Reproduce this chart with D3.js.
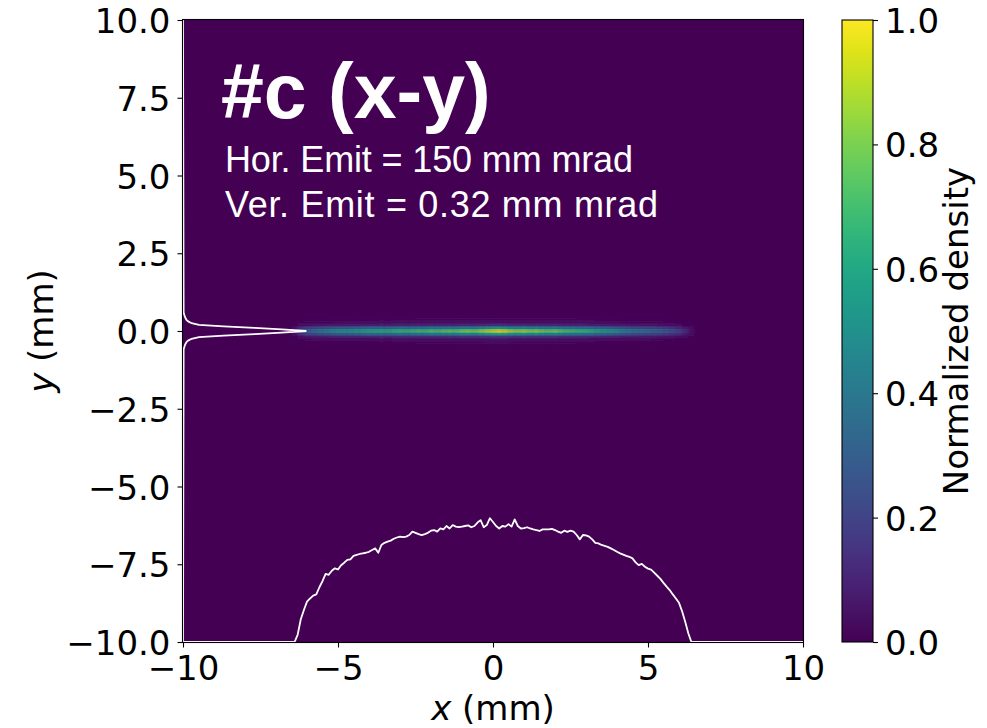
<!DOCTYPE html>
<html>
<head>
<meta charset="utf-8">
<script src="https://cdn.jsdelivr.net/npm/d3@7"></script>
<style>
  body { margin: 0; background: #ffffff; }
  svg { display: block; }
  text { font-family: "DejaVu Sans", sans-serif; }
</style>
</head>
<body>
<svg id="chart" width="987" height="728"></svg>
<script>
// ---- data -------------------------------------------------------------
const xTicks = [-10, -5, 0, 5, 10];
const yTicks = [10, 7.5, 5, 2.5, 0, -2.5, -5, -7.5, -10];
const cbTicks = [0, 0.2, 0.4, 0.6, 0.8, 1.0];

// horizontal projection: bin centres every 0.1 mm from -6.4 to 6.4 mm
const xProfileBins = d3.range(129).map(i => +(-6.4 + 0.1 * i).toFixed(1));
// particle counts per bin (relative units)
const xProfileCounts = [0, 24, 73, 103, 130, 140, 149, 153, 176, 196,
  219, 216, 229, 237, 233, 247, 255, 264, 266, 277,
  280, 283, 285, 287, 290, 296, 301, 287, 312, 319,
  323, 326, 332, 336, 339, 337, 339, 344, 355, 351,
  347, 344, 347, 351, 358, 360, 355, 365, 362, 373,
  365, 376, 371, 369, 371, 373, 375, 369, 373, 384,
  392, 369, 376, 398, 386, 373, 365, 373, 371, 379,
  371, 394, 373, 365, 366, 369, 365, 362, 360, 357,
  362, 362, 362, 364, 360, 355, 351, 358, 354, 358,
  355, 344, 330, 344, 343, 339, 330, 319, 317, 312,
  309, 306, 301, 296, 290, 285, 281, 277, 274, 269,
  256, 247, 251, 242, 236, 233, 223, 213, 203, 190,
  178, 167, 153, 140, 126, 99, 65, 28, 0];

// beam core: bin centres every 0.2 mm from -6.4 to 6.4 mm
const xBins = d3.range(65).map(i => +(-6.4 + 0.2 * i).toFixed(1));
// peak density of the core along x (normalised)
const ridge = [0.08, 0.26, 0.36, 0.40, 0.45, 0.48, 0.52, 0.54, 0.56, 0.58,
  0.60, 0.61, 0.63, 0.65, 0.67, 0.65, 0.68, 0.70, 0.69, 0.71,
  0.74, 0.72, 0.76, 0.74, 0.78, 0.80, 0.77, 0.82, 0.84, 0.82,
  0.88, 0.92, 0.96, 1.00, 0.97, 0.90, 0.86, 0.88, 0.84, 0.87,
  0.82, 0.80, 0.82, 0.77, 0.75, 0.73, 0.71, 0.69, 0.66, 0.63,
  0.60, 0.57, 0.53, 0.49, 0.46, 0.44, 0.42, 0.40, 0.38, 0.36,
  0.32, 0.28, 0.22, 0.14, 0.05];

// vertical bin centres (mm), 0.05 mm wide, -0.6 ... 0.6
const yBins = d3.range(25).map(i => +(-0.6 + 0.05 * i).toFixed(2));
// projected vertical density (peak = 1)
const yProjection = [0.005, 0.008, 0.012, 0.016, 0.022, 0.03, 0.045, 0.07, 0.13, 0.33,
  0.58, 0.80, 1.00, 0.80, 0.58, 0.33, 0.13, 0.07, 0.045, 0.03,
  0.022, 0.016, 0.012, 0.008, 0.005];

// ---- layout -----------------------------------------------------------
const svg = d3.select("#chart");
const x = d3.scaleLinear().domain([-10, 10]).range([183, 803]);
const y = d3.scaleLinear().domain([-10, 10]).range([642, 20]);
const color = d3.scaleSequential(d3.interpolateViridis).domain([0, 1]);
// height of the projection curves above their base edge (mm)
const xProfileHeight = d3.scaleLinear().domain([0, d3.max(xProfileCounts)]).range([0, 3.98]);
const yProfileHeight = d3.scaleLinear().domain([0, 1]).range([0, 3.98]);
const FS = 34;
const fmt1 = d3.format(".1f");
const signed = s => s.replace("-", "\u2212");

const defs = svg.append("defs");
defs.append("clipPath").attr("id", "plotClip")
  .append("rect").attr("x", x(-10)).attr("y", y(10))
  .attr("width", x(10) - x(-10)).attr("height", y(-10) - y(10));
const blur = defs.append("filter").attr("id", "soft")
  .attr("x", "-5%").attr("y", "-200%").attr("width", "110%").attr("height", "500%");
blur.append("feGaussianBlur").attr("stdDeviation", "1.4 0.35");

const plot = svg.append("g").attr("clip-path", "url(#plotClip)");
plot.append("rect")
  .attr("x", x(-10)).attr("y", y(10))
  .attr("width", x(10) - x(-10)).attr("height", y(-10) - y(10))
  .attr("fill", color(0));

// density map
const cells = [];
xBins.forEach((xc, i) => {
  yBins.forEach((yc, j) => {
    const v = ridge[i] * yProjection[j];
    if (v > 0.004) cells.push({ xc, yc, v });
  });
});
plot.append("g").attr("filter", "url(#soft)")
  .selectAll("rect").data(cells).join("rect")
  .attr("x", d => x(d.xc - 0.1))
  .attr("width", d => x(d.xc + 0.1) - x(d.xc - 0.1))
  .attr("y", d => y(d.yc + 0.025))
  .attr("height", d => y(d.yc - 0.025) - y(d.yc + 0.025))
  .attr("fill", d => color(d.v));

// projections
const bottomPts = [{ p: -10, v: 0 }].concat(
  xProfileBins.map((p, i) => ({ p, v: xProfileCounts[i] })), [{ p: 10, v: 0 }]);
plot.append("path")
  .datum(bottomPts)
  .attr("fill", "none").attr("stroke", "#ffffff").attr("stroke-width", 1.8)
  .attr("stroke-linejoin", "round")
  .attr("d", d3.line().x(d => x(d.p)).y(d => y(-10 + xProfileHeight(d.v))));

const leftPts = [{ p: -10, v: 0 }].concat(yBins.map((p, i) => ({ p, v: yProjection[i] })), [{ p: 10, v: 0 }]);
plot.append("path")
  .datum(leftPts)
  .attr("fill", "none").attr("stroke", "#ffffff").attr("stroke-width", 1.8)
  .attr("d", d3.line().x(d => x(-10 + yProfileHeight(d.v))).y(d => y(d.p)));

// annotation
plot.append("text").attr("x", 221).attr("y", 118)
  .attr("fill", "#ffffff").style("font-family", "'Liberation Sans', Arial, sans-serif")
  .style("font-weight", "bold").style("font-size", "77px").text("#c (x-y)");
plot.append("text").attr("x", 225).attr("y", 172)
  .attr("fill", "#ffffff").style("font-family", "'Liberation Sans', Arial, sans-serif")
  .style("font-size", "36px").attr("textLength", 408).attr("lengthAdjust", "spacing")
  .text("Hor. Emit = 150 mm mrad");
plot.append("text").attr("x", 225).attr("y", 217)
  .attr("fill", "#ffffff").style("font-family", "'Liberation Sans', Arial, sans-serif")
  .style("font-size", "36px").attr("textLength", 433).attr("lengthAdjust", "spacing")
  .text("Ver. Emit = 0.32 mm mrad");

// frame
svg.append("rect")
  .attr("x", x(-10) - 0.5).attr("y", y(10) - 0.5)
  .attr("width", x(10) - x(-10) + 1).attr("height", y(-10) - y(10) + 1)
  .attr("fill", "none").attr("stroke", "#000").attr("stroke-width", 1.1);

// axes
function styleAxis(g) {
  g.select(".domain").remove();
  g.selectAll(".tick line").attr("stroke", "#000").attr("stroke-width", 1.1);
  g.selectAll(".tick text").attr("fill", "#000")
    .style("font-family", "'DejaVu Sans', sans-serif").style("font-size", FS + "px");
}
svg.append("g").attr("transform", `translate(0,${y(-10) + 0.5})`)
  .call(d3.axisBottom(x).tickValues(xTicks).tickSize(5).tickPadding(8).tickFormat(d => signed(String(d))))
  .call(styleAxis);
svg.append("g").attr("transform", `translate(${x(-10) - 0.5},0)`)
  .call(d3.axisLeft(y).tickValues(yTicks).tickSize(5).tickPadding(7).tickFormat(d => signed(fmt1(d))))
  .call(styleAxis)
  .call(g => g.selectAll(".tick text").attr("dy", "0.37em"));

svg.append("text")
  .attr("x", x(0)).attr("y", 720).attr("text-anchor", "middle")
  .style("font-size", FS + "px").attr("fill", "#000")
  .html('<tspan font-style="italic">x</tspan> (mm)');
svg.append("text")
  .attr("transform", `translate(53,${y(0)}) rotate(-90)`).attr("text-anchor", "middle")
  .style("font-size", FS + "px").attr("fill", "#000")
  .html('<tspan font-style="italic">y</tspan> (mm)');

// colour bar
const cb = { x0: 842, x1: 873 };
const cbScale = d3.scaleLinear().domain([0, 1]).range([y(-10), y(10)]);
const grad = defs.append("linearGradient").attr("id", "viridis")
  .attr("x1", 0).attr("y1", 1).attr("x2", 0).attr("y2", 0);
d3.range(0, 1.0001, 0.05).forEach(t => {
  grad.append("stop").attr("offset", t).attr("stop-color", color(t));
});
svg.append("rect")
  .attr("x", cb.x0).attr("y", cbScale(1))
  .attr("width", cb.x1 - cb.x0).attr("height", cbScale(0) - cbScale(1))
  .attr("fill", "url(#viridis)")
  .attr("stroke", "#000").attr("stroke-width", 1.1);
svg.append("g").attr("transform", `translate(${cb.x1},0)`)
  .call(d3.axisRight(cbScale).tickValues(cbTicks).tickSize(5).tickPadding(7).tickFormat(fmt1))
  .call(styleAxis)
  .call(g => g.selectAll(".tick text").attr("dy", "0.37em"));
svg.append("text")
  .attr("transform", `translate(968,${cbScale(0.5)}) rotate(-90)`).attr("text-anchor", "middle")
  .style("font-size", FS + "px").attr("fill", "#000")
  .text("Normalized density");
</script>
</body>
</html>
